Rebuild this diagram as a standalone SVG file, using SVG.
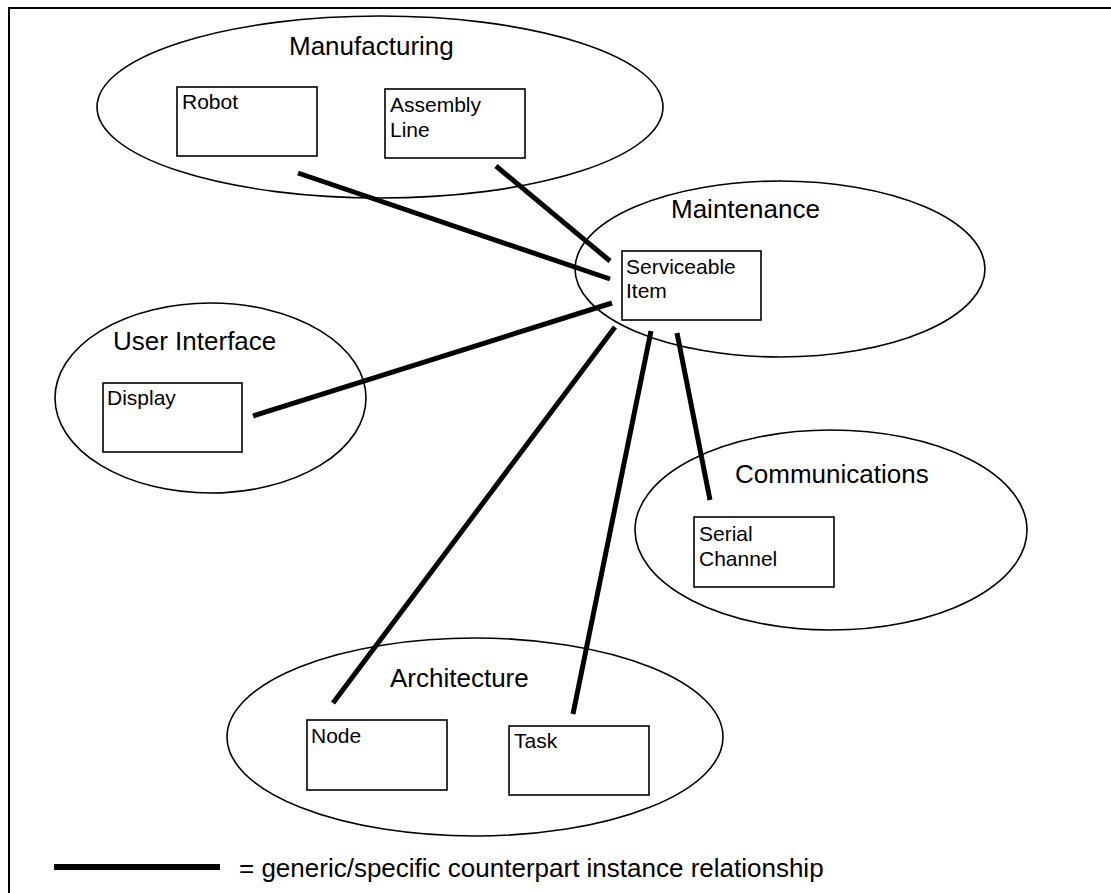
<svg xmlns="http://www.w3.org/2000/svg" width="1111" height="893" viewBox="0 0 1111 893">
<style>
.domain{fill:none;stroke:#000;stroke-width:1.6}
.box{fill:#fff;stroke:#000;stroke-width:1.6}
.title{font-family:"Liberation Sans",Arial,sans-serif;font-size:26px;fill:#000}
.label{font-family:"Liberation Sans",Arial,sans-serif;font-size:21px;fill:#000}
.rel{stroke:#000;stroke-width:5;fill:none}
</style>
<rect x="0" y="0" width="1111" height="893" fill="#fff"/>
<rect x="9" y="8" width="1120" height="910" fill="none" stroke="#000" stroke-width="2"/>
<g id="manufacturing">
<ellipse class="domain" cx="380" cy="107" rx="283" ry="91"/>
<text class="title" x="289" y="55">Manufacturing</text>
</g>
<g id="robot">
<rect class="box" x="177" y="87" width="140" height="69"/>
<text class="label" x="182" y="109">Robot</text>
</g>
<g id="assembly-line">
<rect class="box" x="385" y="89" width="140" height="69"/>
<text class="label" x="390" y="112">Assembly</text>
<text class="label" x="390" y="137">Line</text>
</g>
<g id="maintenance">
<ellipse class="domain" cx="780" cy="269" rx="205" ry="88"/>
<text class="title" x="671" y="218">Maintenance</text>
</g>
<g id="serviceable-item">
<rect class="box" x="622" y="251" width="139" height="69"/>
<text class="label" x="626" y="274">Serviceable</text>
<text class="label" x="626" y="298">Item</text>
</g>
<g id="user-interface">
<ellipse class="domain" cx="210.5" cy="398" rx="155.5" ry="95"/>
<text class="title" x="113" y="350">User Interface</text>
</g>
<g id="display">
<rect class="box" x="103" y="383" width="139" height="69"/>
<text class="label" x="107" y="405">Display</text>
</g>
<g id="communications">
<ellipse class="domain" cx="831" cy="530" rx="196" ry="100"/>
<text class="title" x="735" y="483">Communications</text>
</g>
<g id="serial-channel">
<rect class="box" x="694" y="517" width="140" height="70"/>
<text class="label" x="699" y="541">Serial</text>
<text class="label" x="699" y="566">Channel</text>
</g>
<g id="architecture">
<ellipse class="domain" cx="475" cy="737" rx="248" ry="99"/>
<text class="title" x="390" y="687">Architecture</text>
</g>
<g id="node">
<rect class="box" x="307" y="720" width="140" height="70"/>
<text class="label" x="311" y="743">Node</text>
</g>
<g id="task">
<rect class="box" x="509" y="726" width="140" height="69"/>
<text class="label" x="514" y="748">Task</text>
</g>
<g id="connectors">
<line class="rel" x1="298" y1="173" x2="610" y2="279"/>
<line class="rel" x1="496" y1="166" x2="610" y2="261"/>
<line class="rel" x1="253" y1="416" x2="612" y2="303"/>
<line class="rel" x1="333" y1="703" x2="615" y2="327"/>
<line class="rel" x1="573" y1="714" x2="651" y2="331"/>
<line class="rel" x1="710" y1="500" x2="677" y2="333"/>
</g>
<g id="legend">
<line x1="54" y1="867" x2="220" y2="867" stroke="#000" stroke-width="6"/>
<text class="title" x="239" y="877">= generic/specific counterpart instance relationship</text>
</g>
</svg>
